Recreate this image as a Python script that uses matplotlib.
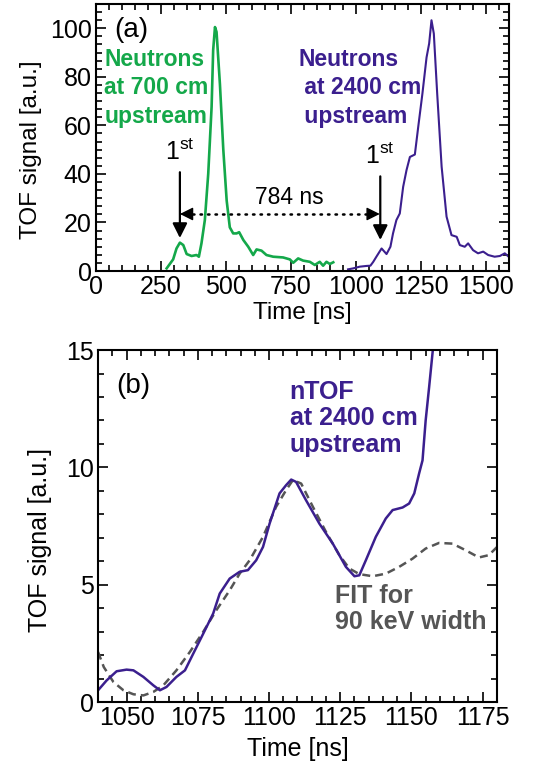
import matplotlib
matplotlib.use("Agg")
import matplotlib.pyplot as plt
from matplotlib.ticker import MultipleLocator

plt.rcParams['font.family'] = ['Liberation Sans', 'DejaVu Sans']
plt.rcParams['mathtext.fontset'] = 'custom'
plt.rcParams['mathtext.rm'] = 'Liberation Sans'
plt.rcParams['mathtext.it'] = 'Liberation Sans:italic'
plt.rcParams['mathtext.bf'] = 'Liberation Sans:bold'

GREEN = '#14a84a'
PURPLE = '#3b1f8e'
GREY = '#555555'

# ---- Panel (a) data ----
green_t = [272, 297, 310, 323, 336, 349, 368, 387, 396, 406, 419, 432, 445, 451, 458,
           464, 477, 490, 503, 515, 528, 541, 551, 567, 586, 605, 618, 637, 656, 682,
           720, 746, 759, 778, 797, 823, 842, 861, 874, 887, 900, 913]
green_v = [1.1, 4.8, 9.3, 11.7, 10.7, 7.0, 6.2, 6.6, 5.9, 11.4, 21, 40, 67.6, 91, 100.5,
           98.5, 77, 50, 29, 18, 15.5, 15.5, 16, 12.8, 10, 6.6, 8.9, 8.4, 6.6, 5.9,
           5.6, 4.8, 3.4, 5.2, 4.3, 3.8, 2.5, 3.8, 2.2, 3.8, 2.9, 3.6]

purple_t = [970, 990, 1015, 1041, 1056, 1067, 1079, 1099, 1118, 1133, 1143, 1156, 1169,
            1182, 1195, 1208, 1227, 1240, 1256, 1272, 1282, 1291, 1300, 1313, 1330, 1349,
            1368, 1388, 1400, 1419, 1432, 1451, 1470, 1490, 1509, 1534, 1554, 1573, 1588]
purple_v = [0.7, 1.1, 1.8, 2.1, 2.2, 3.8, 5.9, 9.3, 7.0, 10, 15.5, 21, 23.7,
            34.7, 41.6, 47, 48, 59.4, 73, 88, 93.7, 103.3, 97.8, 73, 43, 22.4,
            14.8, 14.1, 10.7, 10, 11.4, 8.6, 7.3, 8, 6.6, 5.9, 6.2, 7.3, 5.9]

first_arrival_t = [323, 1094]   # "1st" arrows
first_arrow_top = [40.7, 39.0]
first_arrow_tip = [13.6, 12.8]
delay_label = '784 ns'
delay_y = 23.5

# ---- Panel (b) data ----
ntof_t = [1040, 1043, 1046.5, 1050, 1052.4, 1055.9, 1059.4, 1061.7, 1064, 1067.5, 1070.5,
          1073.4, 1076.9, 1080.4, 1082.7, 1086.2, 1089.7, 1092.6, 1095.5, 1097.9, 1100.2,
          1103.7, 1106, 1107.8, 1109.5, 1113, 1117.7, 1122.4, 1127, 1130, 1131.7, 1134,
          1137.5, 1141, 1143.4, 1146.9, 1149.2, 1151, 1152.7, 1153.9, 1155, 1156.2,
          1157.4, 1158]
ntof_v = [0.5, 0.92, 1.31, 1.38, 1.35, 1.07, 0.71, 0.5, 0.64, 1.07, 1.35,
          2.06, 2.91, 3.77, 4.62, 5.26, 5.55, 5.62, 6.04, 6.61, 7.6,
          8.89, 9.24, 9.48, 9.38, 8.6, 7.6, 6.75, 5.76, 5.36, 5.4, 6.04,
          7.04, 7.82, 8.18, 8.29, 8.46, 8.89, 9.74, 10.3, 12.0, 13.4,
          14.86, 15.6]

fit_t = [1040, 1042, 1045.4, 1048.9, 1052.4, 1055.9, 1059.4, 1062.9, 1067.5, 1072.2,
         1076.9, 1081.5, 1086.2, 1089.7, 1093.2, 1097.9, 1102.5, 1106, 1108.4, 1111.3,
         1115.4, 1120, 1124.7, 1128.2, 1131.7, 1136.4, 1141, 1145.7, 1150.4, 1155,
         1159.7, 1164.4, 1169, 1173.7, 1177.2, 1180]
fit_v = [2.13, 1.49, 0.85, 0.5, 0.33, 0.28, 0.43, 0.71, 1.35, 2.13,
         2.99, 3.91, 4.76, 5.47, 6.04, 7.04, 8.32, 9.03, 9.46, 9.31,
         8.32, 7.25, 6.26, 5.69, 5.45, 5.36, 5.47, 5.76, 6.11, 6.54,
         6.78, 6.75, 6.47, 6.16, 6.26, 6.6]

TICK_FS = 18
LABEL_FS = 17.5

fig = plt.figure(figsize=(5.36, 7.70), dpi=100)
axa = fig.add_axes([0.179, 0.648, 0.771, 0.3468])
axb = fig.add_axes([0.183, 0.0883, 0.744, 0.4571])

for ax in (axa, axb):
    for s in ax.spines.values():
        s.set_linewidth(1.5)
    ax.tick_params(which='both', direction='in', top=True, right=True,
                   labelsize=TICK_FS, width=1.2)
    ax.tick_params(which='major', length=7, pad=3)
    ax.tick_params(which='minor', length=4)

# Panel (a)
axa.plot(green_t, green_v, color=GREEN, lw=1.9)
axa.plot(purple_t, purple_v, color=PURPLE, lw=1.5)
axa.set_xlim(0, 1590)
axa.set_ylim(0, 110)
axa.xaxis.set_major_locator(MultipleLocator(250))
axa.xaxis.set_minor_locator(MultipleLocator(50))
axa.yaxis.set_major_locator(MultipleLocator(20))
axa.yaxis.set_minor_locator(MultipleLocator(20 / 6))
axa.set_xlabel('Time [ns]', fontsize=LABEL_FS, labelpad=2)
axa.set_ylabel('TOF signal [a.u.]', fontsize=LABEL_FS)
axa.yaxis.set_label_coords(-0.131, 0.453)

axa.text(0.045, 0.95, '(a)', transform=axa.transAxes, fontsize=20, va='top', ha='left')
axa.text(0.02, 0.835, 'Neutrons\nat 700 cm\nupstream', transform=axa.transAxes,
         fontsize=16.5, fontweight='bold', color=GREEN, va='top', ha='left', linespacing=1.3)
axa.text(0.49, 0.835, 'Neutrons\n at 2400 cm\n upstream', transform=axa.transAxes,
         fontsize=16.5, fontweight='bold', color=PURPLE, va='top', ha='left', linespacing=1.3)

for t, top, tip in zip(first_arrival_t, first_arrow_top, first_arrow_tip):
    axa.annotate('', xy=(t, tip), xytext=(t, top),
                 arrowprops=dict(arrowstyle='-|>', color='k', lw=1.6, mutation_scale=22,
                                 shrinkA=0, shrinkB=0))
    axa.text(t - 2, top + 3, r'1$^{\mathrm{st}}$', fontsize=18, ha='center', va='bottom')

# dotted connector with two solid heads
axa.plot([first_arrival_t[0] + 20, first_arrival_t[1] - 20], [delay_y, delay_y],
         color='k', lw=1.8, ls=(0, (0.6, 2.4)), dash_capstyle='round')
axa.annotate('', xy=(first_arrival_t[0], delay_y), xytext=(8, 0), textcoords='offset points',
             arrowprops=dict(arrowstyle='-|>', color='k', lw=1.0, mutation_scale=20,
                             shrinkA=0, shrinkB=0))
axa.annotate('', xy=(first_arrival_t[1] - 2, delay_y), xytext=(-8, 0), textcoords='offset points',
             arrowprops=dict(arrowstyle='-|>', color='k', lw=1.0, mutation_scale=20,
                             shrinkA=0, shrinkB=0))
axa.text((first_arrival_t[0] + first_arrival_t[1]) / 2 + 37, delay_y + 2.0, delay_label,
         fontsize=16.5, ha='center', va='bottom')

# Panel (b)
axb.plot(fit_t, fit_v, color=GREY, lw=1.8, ls=(0, (3.2, 2.0)))
axb.plot(ntof_t, ntof_v, color=PURPLE, lw=1.8)
axb.set_xlim(1040, 1180)
axb.set_ylim(0, 15)
axb.xaxis.set_major_locator(MultipleLocator(25))
axb.xaxis.set_minor_locator(MultipleLocator(5))
axb.yaxis.set_major_locator(MultipleLocator(5))
axb.yaxis.set_minor_locator(MultipleLocator(1))
axb.set_xlabel('Time [ns]', fontsize=LABEL_FS + 0.5, labelpad=5)
axb.set_ylabel('TOF signal [a.u.]', fontsize=LABEL_FS + 0.5)
axb.yaxis.set_label_coords(-0.115, 0.46)

axb.text(0.045, 0.935, '(b)', transform=axb.transAxes, fontsize=20, va='top', ha='left')
axb.text(0.48, 0.915, 'nTOF\nat 2400 cm\nupstream', transform=axb.transAxes,
         fontsize=18, fontweight='bold', color=PURPLE, va='top', ha='left', linespacing=1.12)
axb.text(0.595, 0.335, 'FIT for\n90 keV width', transform=axb.transAxes,
         fontsize=18, fontweight='bold', color=GREY, va='top', ha='left', linespacing=1.08)

fig.savefig('out.png', dpi=100)
